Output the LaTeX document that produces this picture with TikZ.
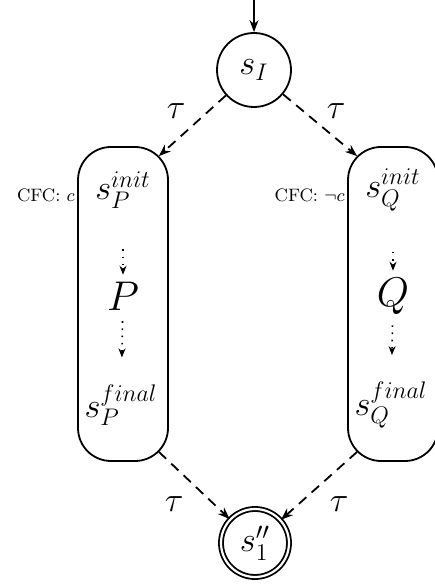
\documentclass[tikz,border=0pt]{standalone}
\usetikzlibrary{arrows.meta,calc}
\begin{document}
\begin{tikzpicture}[x=0.5pt, y=0.5pt, every node/.style={font=\LARGE},
  state/.style={draw, circle, line width=0.9pt, minimum size=37pt, inner sep=0pt},
  accept/.style={state, double, double distance=1.1pt, minimum size=34pt},
  proc/.style={draw, rounded corners=16.5pt, line width=0.9pt, minimum width=45pt, minimum height=157pt},
  tau/.style={line width=0.9pt, dash pattern=on 5pt off 3.5pt, -{Stealth[length=6pt,width=4.5pt]}},
  run/.style={line width=0.8pt, dash pattern=on 0.8pt off 2.8pt, -{Stealth[length=4.5pt,width=3.5pt]}},
  cfc/.style={font=\small, inner sep=1.5pt}]
  \useasboundingbox (0,0) rectangle (434,584);

  % initial and final states
  \node[state] (sI) at (254,514) {$s_I$};
  \node[accept] (sF) at (255,41) {$s''_1$};
  \coordinate (start) at (254,584);
  \draw[line width=0.9pt, -{Stealth[length=6pt,width=4.5pt]}] (start) -- (sI);

  % branch P
  \begin{scope}[shift={(123,0)}]
    \node[proc] (boxP) at (0,280) {};
    \node (initP) at (0,394) {$s_P^{init}$};
    \node (midP) at (0,288) {\huge $P$};
    \node (finP) at (-2,179) {$s_P^{final}$};
    \node[cfc, anchor=east] (cfcP) at (-45,389) {CFC: $c$};
    \draw[run, shorten <=17pt] (initP) -- (midP);
    \draw[run, shorten <=2pt, shorten >=10pt] (midP) -- (finP);
  \end{scope}

  % branch Q
  \begin{scope}[shift={(393,0)}]
    \node[proc] (boxQ) at (0,280) {};
    \node (initQ) at (0,394) {$s_Q^{init}$};
    \node (midQ) at (0,288) {\huge $Q$};
    \node (finQ) at (-2,179) {$s_Q^{final}$};
    \node[cfc, anchor=east] (cfcQ) at (-45,389) {CFC: $\neg c$};
    \draw[run, shorten <=17pt] (initQ) -- (midQ);
    \draw[run, shorten <=2pt, shorten >=10pt] (midQ) -- (finQ);
  \end{scope}

  % tau transitions
  \coordinate (inP) at ($(boxP.north east)+(-10,-10)$);
  \coordinate (inQ) at ($(boxQ.north west)+(10,-10)$);
  \coordinate (outP) at ($(boxP.south east)+(-10,10)$);
  \coordinate (outQ) at ($(boxQ.south west)+(10,10)$);
  \draw[tau] (sI) -- node[above left, inner sep=3pt] {$\tau$} (inP);
  \draw[tau] (sI) -- node[above right, inner sep=3pt] {$\tau$} (inQ);
  \draw[tau] (outP) -- node[below left, inner sep=5pt] {$\tau$} (sF);
  \draw[tau] (outQ) -- node[below right, inner sep=5pt] {$\tau$} (sF);
\end{tikzpicture}
\end{document}
